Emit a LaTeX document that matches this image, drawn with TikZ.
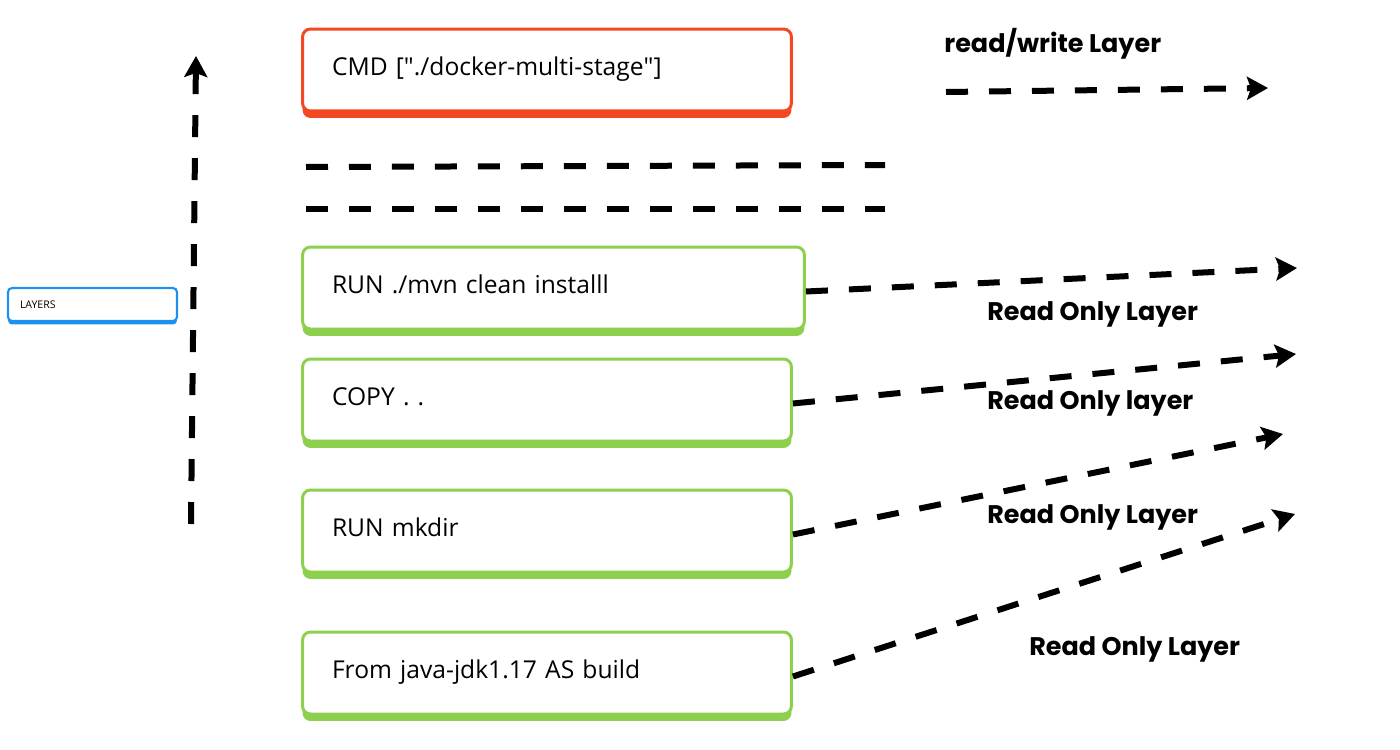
\documentclass[tikz,border=0pt]{standalone}
\usepackage{fontspec}
\setmainfont{Open Sans}
\newfontfamily\notefont{Poppins}
\definecolor{cmdred}{RGB}{244,71,35}
\definecolor{layergreen}{RGB}{141,208,78}
\definecolor{layersblue}{RGB}{30,144,240}
\usetikzlibrary{arrows.meta, positioning, shadows}
\tikzset{
  x=0.02cm, y=-0.02cm, % one unit is one pixel of the sketch, y runs down
  layer/.style={draw, line width=1.7pt, rounded corners=0.16cm, fill=white, minimum height=1.64cm, text width=8.6cm, inner xsep=0.59cm, align=left, text height=0.42cm, text depth=0.2cm, font=\fontsize{14}{17}\selectfont}, % the box of one image layer
  readonly/.style={layer, draw=layergreen, drop shadow={shadow xshift=0cm, shadow yshift=-0.14cm, fill=layergreen, opacity=1}},
  readwrite/.style={layer, draw=cmdred, drop shadow={shadow xshift=0cm, shadow yshift=-0.14cm, fill=cmdred, opacity=1}},
  flow/.style={line width=0.12cm, dash pattern=on 0.44cm off 0.42cm, -{Stealth[length=0.42cm, width=0.46cm, inset=0.08cm]}}, % thick dashed arrow
  gapline/.style={line width=0.12cm, dash pattern=on 0.44cm off 0.42cm},
  note/.style={font=\notefont\bfseries\fontsize{14.5}{17}\selectfont, anchor=base west, inner sep=0pt}
}

\begin{document}
\begin{tikzpicture}
      \useasboundingbox (0,0) rectangle (1400,750);

      \node[readwrite] (cmd) at (547,70) {CMD [\textquotedbl./docker-multi-stage\textquotedbl]};
      \node[readonly, text width=8.86cm] (run) at (553.5,288) {RUN ./mvn clean installl};
      \node[readonly] (copy) at (547,400) {COPY . .};
      \node[readonly] (mkdir) at (547,531) {RUN mkdir};
      \node[readonly] (from) at (547,673) {From java-jdk1.17 AS build};

      \node[draw=layersblue, line width=1.2pt, rounded corners=0.08cm, fill=white, minimum height=0.66cm, text width=2.9cm, inner xsep=0.24cm, align=left, font=\fontsize{6}{7}\selectfont, drop shadow={shadow xshift=0cm, shadow yshift=-0.07cm, fill=layersblue, opacity=1}] (layers) at (92.5,304.5) {LAYERS};

      \node[note] (rwnote) at (944,53) {read/write Layer};
      \node[note] (runnote) at (987,320) {Read Only Layer};
      \node[note] (copynote) at (987,409) {Read Only layer};
      \node[note] (mkdirnote) at (987,523) {Read Only Layer};
      \node[note] (fromnote) at (1029,655) {Read Only Layer};

      \coordinate (vbot) at (191,524);
      \coordinate (vtop) at (196,56);
      \coordinate (rwstart) at (946,92);
      \coordinate (rwend) at (1268,88);
      \coordinate (runend) at (1297,268);
      \coordinate (copyend) at (1296,354);
      \coordinate (mkdirend) at (1283,434);
      \coordinate (fromend) at (1295,514);
      \coordinate (gapAw) at (306,167);
      \coordinate (gapAe) at (885,165);
      \coordinate (gapBw) at (306,209);
      \coordinate (gapBe) at (885,209);

      \path (gapAw) edge[gapline] (gapAe)
      (gapBw) edge[gapline] (gapBe);

      \path (vbot) edge[flow] (vtop)
      (rwstart) edge[flow] (rwend)
      ([yshift=-0.07cm]run.east) edge[flow] (runend)
      ([yshift=-0.07cm]copy.east) edge[flow] (copyend)
      ([yshift=-0.07cm]mkdir.east) edge[flow] (mkdirend)
      ([yshift=-0.07cm]from.east) edge[flow] (fromend);
    \end{tikzpicture}
\end{document}
